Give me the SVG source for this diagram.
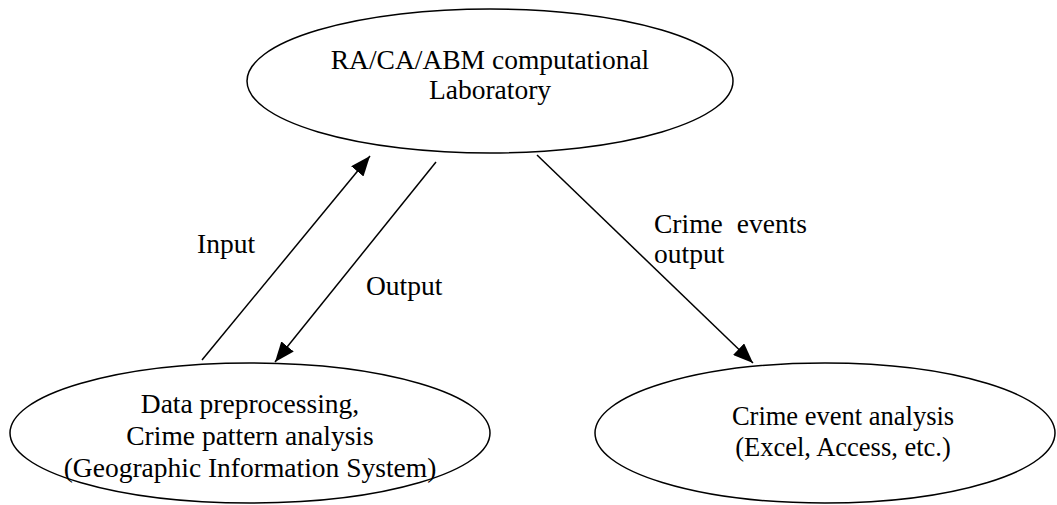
<svg xmlns="http://www.w3.org/2000/svg" width="1057" height="505" viewBox="0 0 1057 505">
  <style>
    .node { fill: #ffffff; stroke: #000000; stroke-width: 1.5; }
    .lbl { font-family: "Liberation Serif", "Times New Roman", serif; font-size: 27.5px; fill: #000000; }
    .sm { font-size: 26.5px; }
    .mid { text-anchor: middle; }
    .edge { stroke: #000000; stroke-width: 1.5; fill: none; marker-end: url(#arrow); }
  </style>
  <defs>
    <marker id="arrow" markerWidth="20" markerHeight="16" refX="20" refY="8" orient="auto" markerUnits="userSpaceOnUse" viewBox="0 0 20 16">
      <path d="M0,0 L20,8 L0,16 Z" fill="#000000"/>
    </marker>
  </defs>
  <rect width="1057" height="505" fill="#ffffff"/>
  <g id="lab">
    <ellipse class="node" cx="490" cy="81" rx="243" ry="72"/>
    <text class="lbl mid" x="490" y="69">RA/CA/ABM computational</text>
    <text class="lbl mid" x="490" y="99">Laboratory</text>
  </g>
  <g id="gis">
    <ellipse class="node" cx="250" cy="433" rx="240" ry="70"/>
    <text class="lbl mid" x="250" y="413">Data preprocessing,</text>
    <text class="lbl mid" x="250" y="445">Crime pattern analysis</text>
    <text class="lbl mid" x="250" y="477">(Geographic Information System)</text>
  </g>
  <g id="analysis">
    <ellipse class="node" cx="825" cy="433" rx="230" ry="70"/>
    <text class="lbl sm mid" x="843" y="425">Crime event analysis</text>
    <text class="lbl sm mid" x="843" y="456">(Excel, Access, etc.)</text>
  </g>
  <g id="connectors">
    <line class="edge" x1="202" y1="360" x2="370" y2="156"/>
    <line class="edge" x1="436" y1="162" x2="275" y2="362"/>
    <line class="edge" x1="537" y1="155" x2="753" y2="363"/>
    <text class="lbl" x="197" y="253">Input</text>
    <text class="lbl" x="366" y="295">Output</text>
    <text class="lbl" x="654" y="233">Crime</text>
    <text class="lbl" x="807" y="233" text-anchor="end">events</text>
    <text class="lbl" x="654" y="263">output</text>
  </g>
</svg>
